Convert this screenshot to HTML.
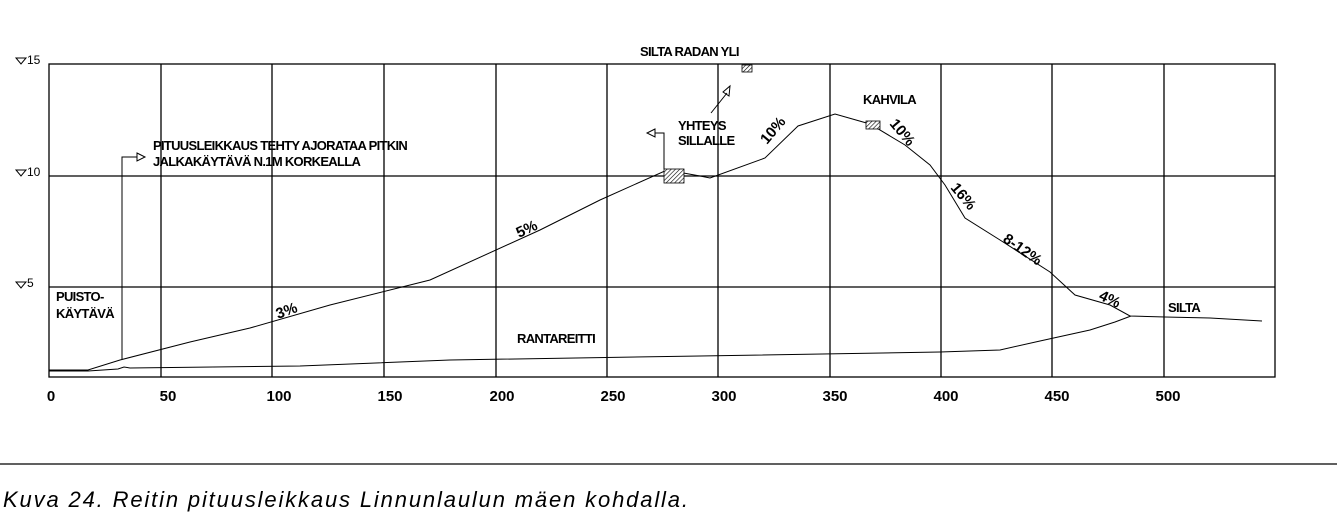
<!DOCTYPE html>
<html><head><meta charset="utf-8"><style>
html,body{margin:0;padding:0;background:#fff;width:1337px;height:517px;overflow:hidden}
svg text{font-family:"Liberation Sans",sans-serif;fill:#000}
.b{font-weight:bold;font-size:13px;letter-spacing:-0.7px}
.t{font-weight:bold;font-size:15px}
</style></head><body>
<svg width="1337" height="517" viewBox="0 0 1337 517" xmlns="http://www.w3.org/2000/svg">
<defs><pattern id="h" width="3" height="3" patternUnits="userSpaceOnUse" patternTransform="rotate(45)"><rect width="3" height="3" fill="#fff"/><line x1="0" y1="0" x2="0" y2="3" stroke="#000" stroke-width="1.2"/></pattern></defs>
<g stroke="#000" stroke-width="1.3" fill="none">
<rect x="49" y="64" width="1226" height="313"/>
<line x1="49" y1="176" x2="1275" y2="176"/><line x1="49" y1="287" x2="1275" y2="287"/>
<line x1="161" y1="64" x2="161" y2="377"/><line x1="272" y1="64" x2="272" y2="377"/>
<line x1="384" y1="64" x2="384" y2="377"/><line x1="496" y1="64" x2="496" y2="377"/>
<line x1="607" y1="64" x2="607" y2="377"/><line x1="718" y1="64" x2="718" y2="377"/>
<line x1="830" y1="64" x2="830" y2="377"/><line x1="941" y1="64" x2="941" y2="377"/>
<line x1="1052" y1="64" x2="1052" y2="377"/><line x1="1164" y1="64" x2="1164" y2="377"/>
<line x1="0" y1="464" x2="1337" y2="464"/>
</g>
<g stroke="#000" stroke-width="1" fill="none">
<polyline points="49,370 88,370 120,360 190,342 250,328 330,305 430,280 540,230 600,200 667,170 700,176 710,178 765,158 798,126 835,114 870,124 905,145 930,165 945,185 965,218 1000,240 1050,272 1075,295 1110,305 1130,316 1165,317 1210,318 1262,321"/>
<polyline points="49,371 88,371 118,369 124,367 130,368 300,366 450,360 700,356 940,352 1000,350 1040,341 1090,330 1115,322 1131,316"/>
<polyline points="122,360 122,157 137,157"/><polygon points="137,153 145,157 137,161"/>
<polyline points="664,169 664,133 655,133"/><polygon points="655,129 647,133 655,137"/>
<line x1="711" y1="113" x2="727" y2="93"/><polygon points="723,92 730,86 729,96"/>
<path d="M16 58h10l-5 6z M16 170h10l-5 6z M16 282h10l-5 6z"/>
</g>
<rect x="664" y="169" width="20" height="14" fill="url(#h)" stroke="#000" stroke-width="0.8"/>
<rect x="742" y="65" width="10" height="7" fill="url(#h)" stroke="#000" stroke-width="0.8"/>
<rect x="866" y="121" width="14" height="8" fill="url(#h)" stroke="#000" stroke-width="0.8"/>
<g font-size="12"><text x="27" y="64">15</text><text x="27" y="176">10</text><text x="27" y="287">5</text></g>
<g class="t" text-anchor="middle">
<text x="51" y="401">0</text><text x="168" y="401">50</text><text x="279" y="401">100</text><text x="390" y="401">150</text><text x="502" y="401">200</text><text x="613" y="401">250</text><text x="724" y="401">300</text><text x="835" y="401">350</text><text x="946" y="401">400</text><text x="1057" y="401">450</text><text x="1168" y="401">500</text>
</g>
<g class="b">
<text x="153" y="150">PITUUSLEIKKAUS TEHTY AJORATAA PITKIN</text>
<text x="153" y="166">JALKAKÄYTÄVÄ  N.1M KORKEALLA</text>
<text x="56" y="301">PUISTO-</text><text x="56" y="318">KÄYTÄVÄ</text>
<text x="640" y="56">SILTA RADAN YLI</text>
<text x="678" y="130">YHTEYS</text><text x="678" y="145">SILLALLE</text>
<text x="863" y="104">KAHVILA</text>
<text x="517" y="343">RANTAREITTI</text>
<text x="1168" y="312">SILTA</text>
</g>
<g class="t">
<text transform="translate(278,319) rotate(-20)">3%</text>
<text transform="translate(519,238) rotate(-25)">5%</text>
<text transform="translate(767,145) rotate(-50)">10%</text>
<text transform="translate(889,124) rotate(50)">10%</text>
<text transform="translate(950,188) rotate(50)">16%</text>
<text transform="translate(1002,241) rotate(35)">8-12%</text>
<text transform="translate(1098,299) rotate(25)">4%</text>
</g>
<text x="3" y="507" font-size="22" font-style="italic" textLength="685" lengthAdjust="spacing">Kuva 24. Reitin pituusleikkaus Linnunlaulun mäen kohdalla.</text>
</svg>
</body></html>
